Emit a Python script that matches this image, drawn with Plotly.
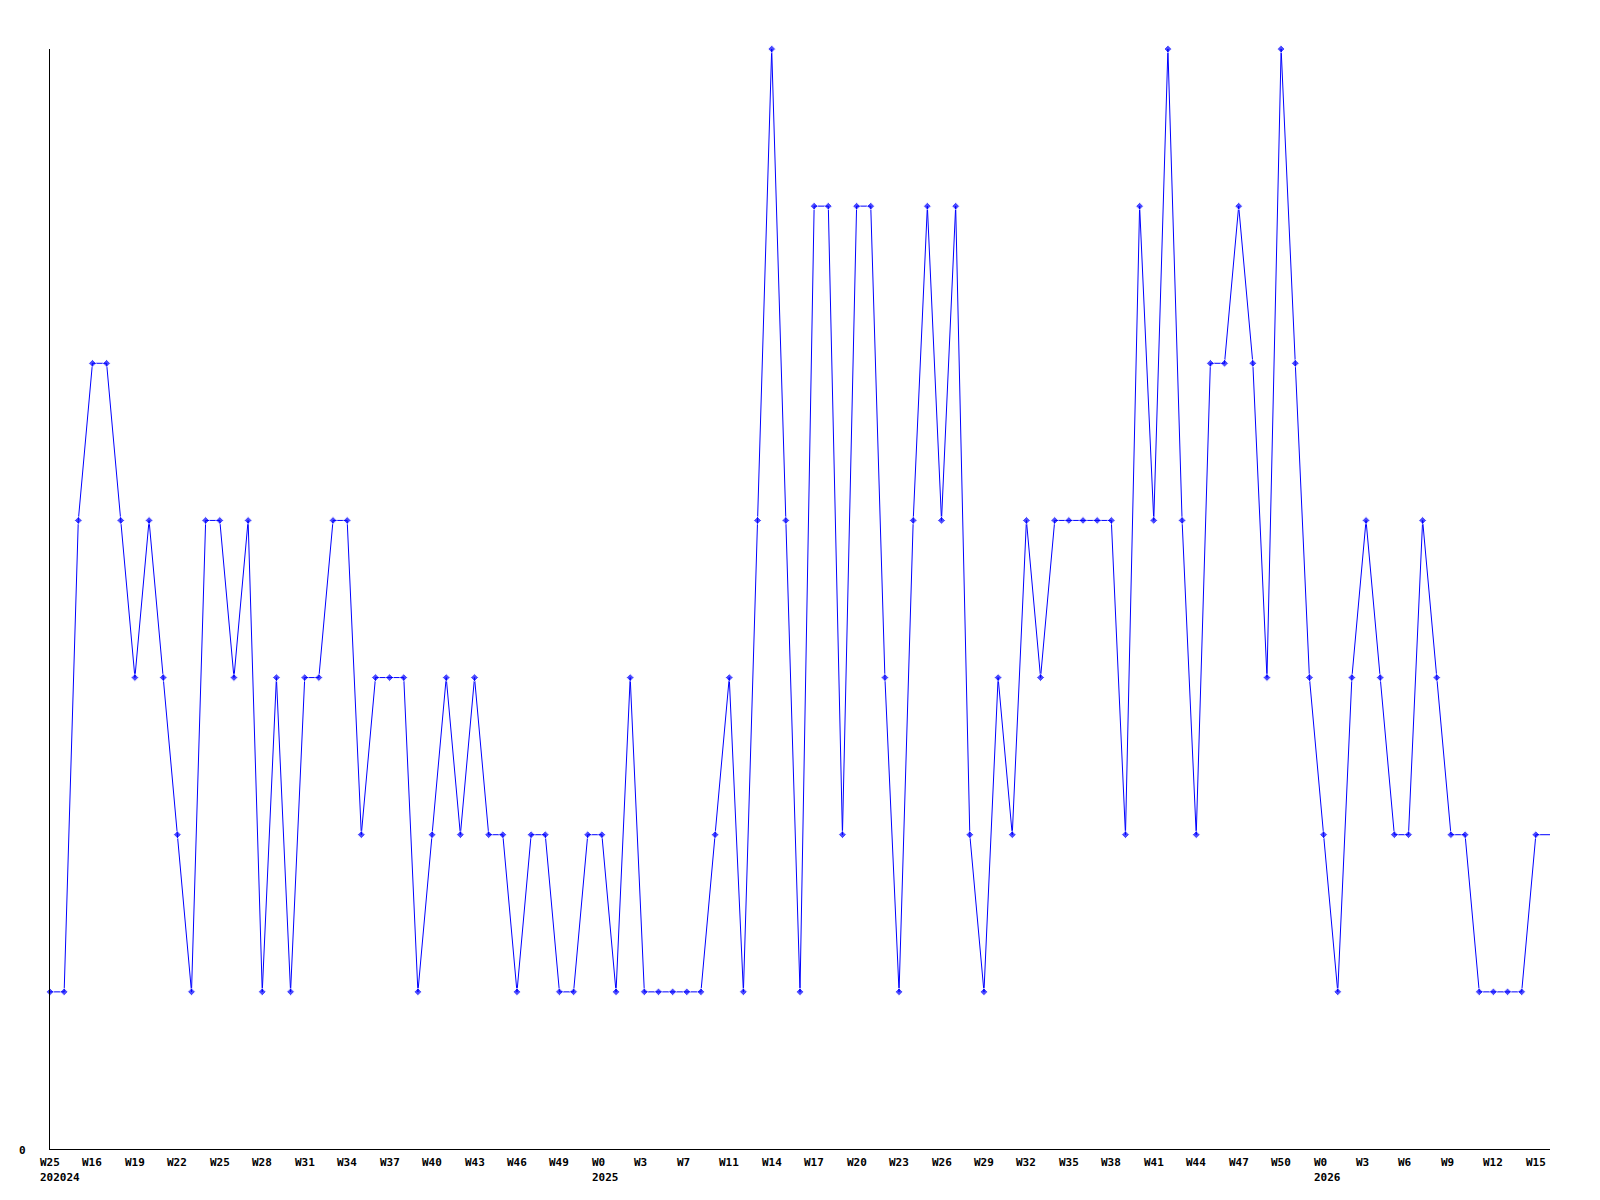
import plotly.graph_objects as go

# Weekly counts (one value per week, left to right)
values = [1, 1, 4, 5, 5, 4, 3, 4, 3, 2,
          1, 4, 4, 3, 4, 1, 3, 1, 3, 3,
          4, 4, 2, 3, 3, 3, 1, 2, 3, 2,
          3, 2, 2, 1, 2, 2, 1, 1, 2, 2,
          1, 3, 1, 1, 1, 1, 1, 2, 3, 1,
          4, 7, 4, 1, 6, 6, 2, 6, 6, 3,
          1, 4, 6, 4, 6, 2, 1, 3, 2, 4,
          3, 4, 4, 4, 4, 4, 2, 6, 4, 7,
          4, 2, 5, 5, 6, 5, 3, 7, 5, 3,
          2, 1, 3, 4, 3, 2, 2, 4, 3, 2,
          2, 1, 1, 1, 1, 2, 2]

# Week tick labels, one every 3 points
week_labels = ["W25", "W16", "W19", "W22", "W25", "W28", "W31", "W34", "W37",
               "W40", "W43", "W46", "W49", "W0", "W3", "W7", "W11", "W14",
               "W17", "W20", "W23", "W26", "W29", "W32", "W35", "W38", "W41",
               "W44", "W47", "W50", "W0", "W3", "W6", "W9", "W12", "W15"]
tick_step = 3

# Year labels and the tick index they sit under
year_labels = ["202024", "2025", "2026"]
year_ticks = [0, 13, 30]

y_labels = ["0"]

x = list(range(len(values)))
n = len(values)

fig = go.Figure()
fig.add_trace(go.Scatter(
    x=x, y=values, mode="lines+markers",
    line=dict(color="#0000FF", width=1),
    marker=dict(symbol="diamond", size=[6] * (n - 1) + [0], color="#0000FF"),
    cliponaxis=False, showlegend=False, hoverinfo="x+y",
))

font = dict(family="DejaVu Sans Mono", size=11, color="black")
annotations = []
for i, lab in enumerate(week_labels):
    annotations.append(dict(
        x=i * tick_step, y=0, xref="x", yref="y", text="<b>%s</b>" % lab,
        showarrow=False, xanchor="left", yanchor="middle",
        xshift=-12, yshift=-13, font=font))
for lab, t in zip(year_labels, year_ticks):
    annotations.append(dict(
        x=t * tick_step, y=0, xref="x", yref="y", text="<b>%s</b>" % lab,
        showarrow=False, xanchor="left", yanchor="middle",
        xshift=-12, yshift=-28, font=font))
annotations.append(dict(
    x=0, y=0, xref="paper", yref="y", text="<b>%s</b>" % y_labels[0],
    showarrow=False, xanchor="right", yanchor="middle",
    xshift=-22, yshift=-1, font=font))

fig.update_layout(
    width=1584, height=1184,
    margin=dict(l=42, r=42, t=41, b=43, pad=0),
    paper_bgcolor="white", plot_bgcolor="white",
    xaxis=dict(range=[0, n - 1], showgrid=False, zeroline=False,
               showticklabels=False, ticks="", showline=True,
               linecolor="black", linewidth=1),
    yaxis=dict(range=[0, 7], showgrid=False, zeroline=False,
               showticklabels=False, ticks="", showline=True,
               linecolor="black", linewidth=1),
    annotations=annotations,
)

fig.write_html("out.html")
